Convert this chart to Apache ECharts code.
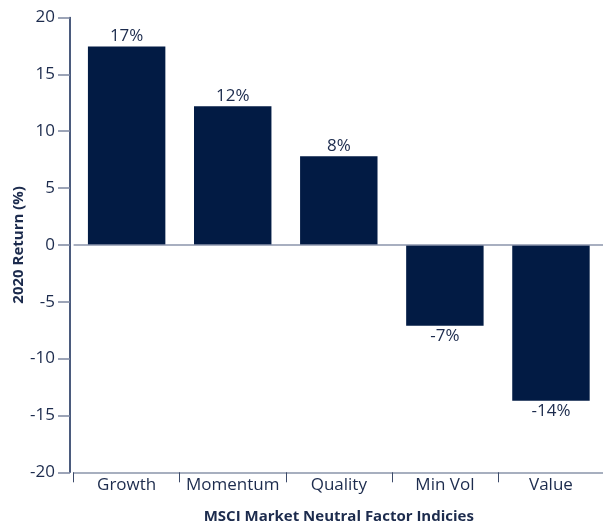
<!DOCTYPE html>
<html>
<head>
<meta charset="utf-8">
<script src="https://cdn.jsdelivr.net/npm/echarts@6/dist/echarts.min.js"></script>
<style>
  html, body { margin: 0; padding: 0; background: #fff; }
  #chart { width: 603px; height: 524px; }
</style>
</head>
<body>
<div id="chart"></div>
<script>
// MSCI market-neutral factor index returns for 2020 (%)
const categories = ['Growth', 'Momentum', 'Quality', 'Min Vol', 'Value'];
const returns2020 = [17.45, 12.2, 7.8, -7.1, -13.7];
const yTicks = { min: -20, max: 20, step: 5 };

const NAVY = '#021b44';
const TEXT = '#1c2b4d';
const GREY_LINE = '#8b95ab';
const FONT = '"Open Sans", "Noto Sans", sans-serif';

const chart = echarts.init(document.getElementById('chart'));

chart.setOption({
  animation: false,
  grid: {
    left: 73.6, right: -1, top: 17.5, bottom: 51.7,
    containLabel: false,
    outerBoundsMode: 'none'
  },
  xAxis: {
    type: 'category',
    data: categories,
    position: 'bottom',
    axisLine: { onZero: false, lineStyle: { color: GREY_LINE, width: 1.5 } },
    axisTick: { show: true, length: 10, lineStyle: { color: '#3c4a69', width: 1 } },
    axisLabel: { interval: 0, color: TEXT, fontFamily: FONT, fontSize: 17, margin: 4 },
    name: 'MSCI Market Neutral Factor Indicies',
    nameLocation: 'middle',
    nameGap: 37,
    nameMoveOverlap: false,
    nameTextStyle: { color: TEXT, fontFamily: FONT, fontSize: 15, fontWeight: 'bold' }
  },
  yAxis: {
    type: 'value',
    min: yTicks.min,
    max: yTicks.max,
    interval: yTicks.step,
    offset: 3.6,
    splitLine: { show: false },
    axisLine: { show: true, lineStyle: { color: '#0f2452', width: 1.5 } },
    axisTick: { show: true, length: 12, lineStyle: { color: '#7c87a0', width: 1.5 } },
    axisLabel: { color: TEXT, fontFamily: FONT, fontSize: 17, margin: 15 },
    name: '2020 Return (%)',
    nameLocation: 'middle',
    nameGap: 44,
    nameRotate: 90,
    nameMoveOverlap: false,
    nameTextStyle: { color: TEXT, fontFamily: FONT, fontSize: 15, fontWeight: 'bold' }
  },
  series: [{
    type: 'bar',
    data: returns2020.map(v => ({
      value: v,
      label: { position: v >= 0 ? 'top' : 'bottom' }
    })),
    barCategoryGap: '27%',
    itemStyle: { color: NAVY },
    label: {
      show: true,
      distance: 2,
      color: TEXT,
      fontFamily: FONT,
      fontSize: 17,
      formatter: p => Math.round(p.value) + '%'
    },
    markLine: {
      silent: true,
      symbol: 'none',
      label: { show: false },
      lineStyle: { color: GREY_LINE, type: 'solid', width: 1.5 },
      data: [{ yAxis: 0 }]
    }
  }]
});
</script>
</body>
</html>
